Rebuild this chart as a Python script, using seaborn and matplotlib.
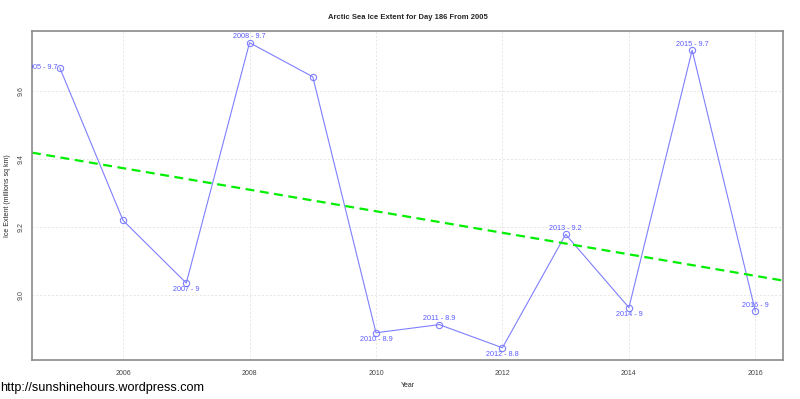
import numpy as np
import pandas as pd
import matplotlib
matplotlib.use("Agg")
import matplotlib.pyplot as plt
import seaborn as sns

# values (day 186 extent, millions sq km)
years = [2005, 2006, 2007, 2008, 2009, 2010, 2011, 2012, 2013, 2014, 2015, 2016]
extent = [9.668, 9.220, 9.036, 9.742, 9.642, 8.890, 8.914, 8.846, 9.179, 8.964, 9.720, 8.953]
# where each point label sits: left / above / below / none
label_pos = ["left", None, "below", "above", None, "below", "above", "below", "above", "below", "above", "above"]

df = pd.DataFrame({"Year": years, "Extent": extent})

sns.set_style("white")
plt.rcParams["font.family"] = ["Liberation Sans", "DejaVu Sans"]

fig = plt.figure(figsize=(8, 3.99), dpi=100)
ax = fig.add_axes([0.04, 0.0977, 0.939, 0.8243])
ax.set_xlim(2004.56, 2016.44)
ax.set_ylim(8.810, 9.776)

blue = "#7f7fff"
sns.lineplot(data=df, x="Year", y="Extent", ax=ax, color=blue, lw=0.8,
             marker="o", markersize=4.5, markerfacecolor="none",
             markeredgecolor=blue, markeredgewidth=0.8)

# regression trend across the whole plot width
sns.regplot(data=df, x="Year", y="Extent", ax=ax, scatter=False, ci=None,
            truncate=False, color="#00ee00",
            line_kws={"ls": (0, (4, 2.5)), "lw": 1.6})

offsets = {"left": (-1.5, 0, "right"), "above": (0, 4.2, "center"), "below": (0, -4.7, "center")}
for yr, v, pos in zip(years, extent, label_pos):
    if pos is None:
        continue
    dx, dy, ha = offsets[pos]
    t = ax.annotate(f"{yr} - {round(v, 1):g}", (yr, v), xytext=(dx, dy),
                    textcoords="offset points", ha=ha, va="center",
                    fontsize=5.2, color="#5a5aff")
    t.set_clip_on(True)
    t.set_clip_path(ax.patch)

ax.set_xticks([2006, 2008, 2010, 2012, 2014, 2016])
ax.set_yticks([9.0, 9.2, 9.4, 9.6])
ax.set_yticklabels(["9.0", "9.2", "9.4", "9.6"], rotation=90, va="center")
ax.tick_params(length=2, width=0.6, color="#8a8a8a", labelsize=5,
               labelcolor="#444444", pad=5)
ax.tick_params(axis="y", pad=3)
ax.grid(True, color="#e6e6e6", ls=(0, (2, 2)), lw=0.7)
for s in ax.spines.values():
    s.set_color("#8a8a8a")
    s.set_linewidth(1.2)

ax.set_xlabel("Year", fontsize=5)
ax.xaxis.set_label_coords(0.5, -0.068)
ax.set_ylabel("Ice Extent (millions sq km)", fontsize=5)
ax.yaxis.set_label_coords(-0.028, 0.5)
ax.set_title("Arctic Sea Ice Extent for Day 186 From 2005", fontsize=5.5,
             fontweight="bold", pad=9)

fig.text(0.0, 0.02, "http://sunshinehours.wordpress.com", fontsize=9.05, color="black")

fig.savefig("out.png", dpi=100)
